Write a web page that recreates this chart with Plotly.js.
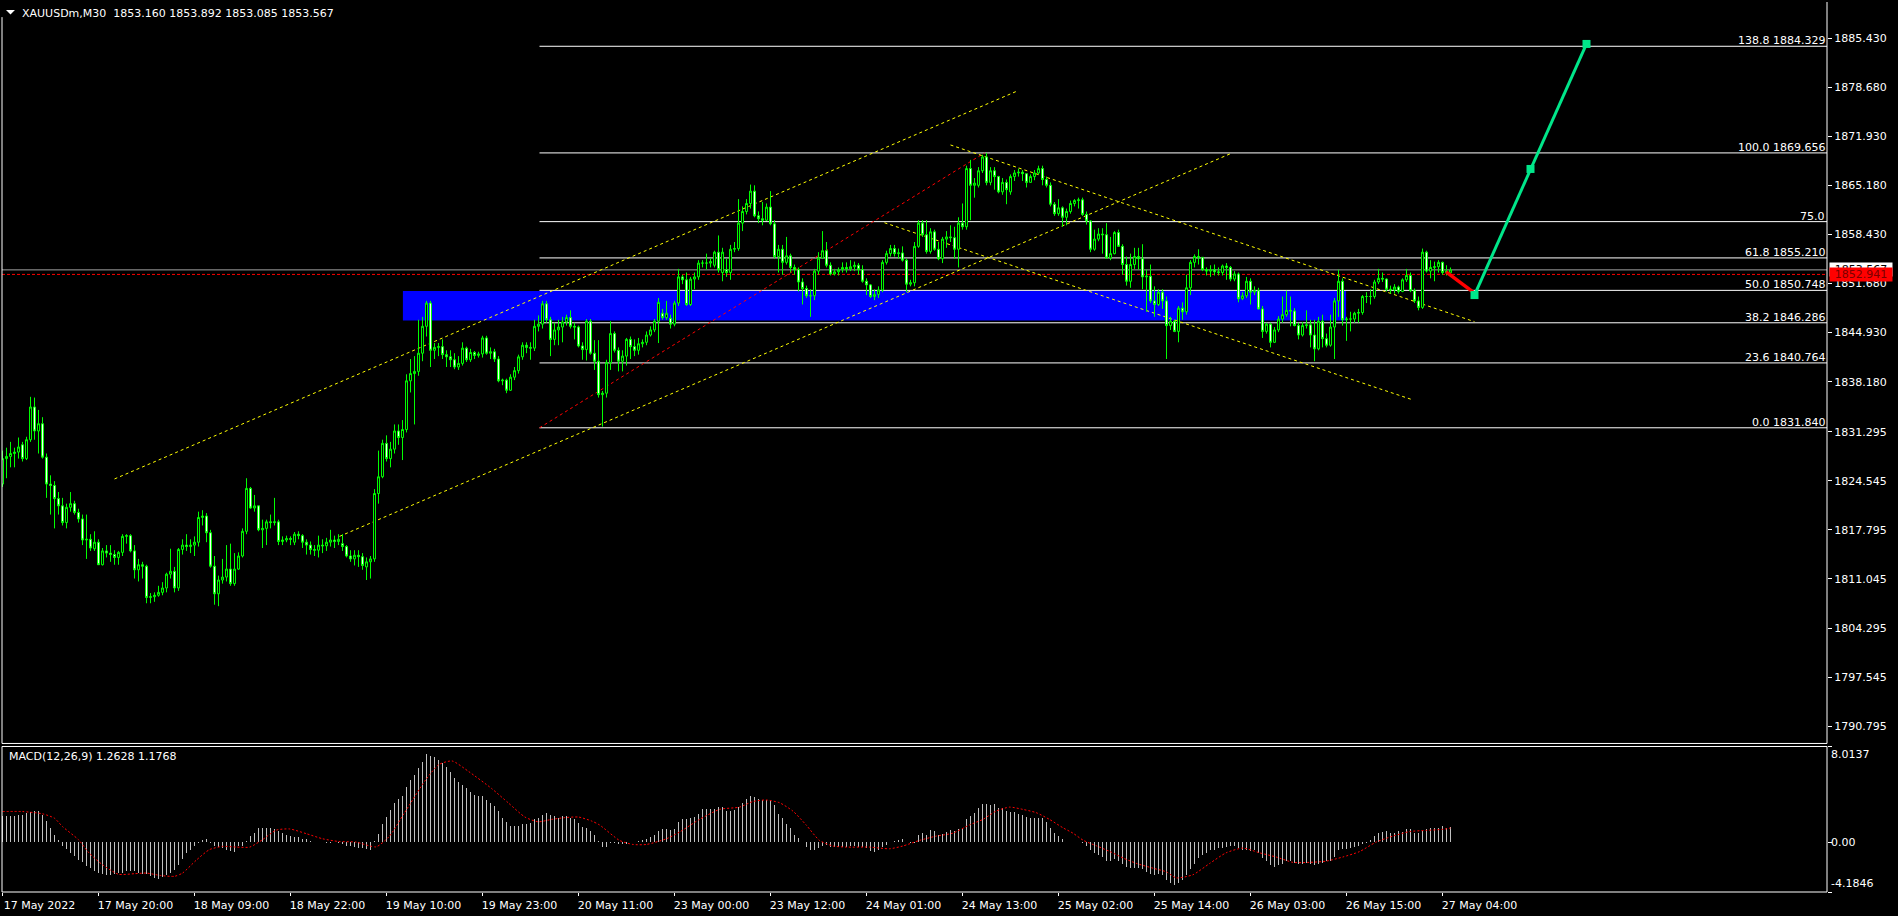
<!DOCTYPE html>
<html>
<head>
<meta charset="utf-8">
<script src="https://cdn.plot.ly/plotly-3.0.1.min.js"></script>
<style>
  html, body { margin: 0; padding: 0; background: #000; }
  #chart { width: 1898px; height: 916px; }
</style>
</head>
<body>
<div id="chart"></div>
<script>
// ---------------- DATA (XAUUSDm, M30) ----------------
const symbolTitle = "XAUUSDm,M30  1853.160 1853.892 1853.085 1853.567";
const macdTitle = "MACD(12,26,9) 1.2628 1.1768";

const open = [
1824.1,1827.6,1827.9,1828.3,1828.5,1829.5,1827.6,1830.2,1834.7,1831.4,
1832.4,1827.8,1824.1,1823.9,1822.1,1821.1,1818.8,1820.9,1821.4,1820.2,
1819.3,1816.4,1816.5,1815.2,1816.1,1813.0,1814.9,1814.6,1814.4,1814.0,
1814.7,1816.9,1817.0,1814.9,1812.3,1813.0,1812.8,1808.5,1808.6,1808.8,
1809.2,1809.8,1811.7,1812.1,1809.8,1815.1,1815.7,1815.5,1815.7,1816.1,
1819.5,1819.7,1817.4,1812.8,1809.0,1810.9,1811.3,1812.4,1810.4,1812.4,
1814.2,1817.6,1823.5,1820.8,1821.1,1817.8,1818.0,1818.9,1818.8,1818.9,
1816.2,1816.4,1816.6,1816.1,1817.2,1817.0,1816.1,1815.7,1815.1,1815.0,
1815.7,1815.6,1816.1,1816.4,1816.2,1815.9,1815.5,1814.2,1813.8,1814.3,
1814.1,1812.7,1813.4,1813.8,1822.8,1825.1,1829.7,1827.6,1828.9,1831.4,
1830.5,1831.6,1838.3,1839.3,1839.6,1842.1,1845.8,1849.0,1842.5,1842.9,
1843.0,1841.9,1841.6,1841.2,1840.2,1840.7,1842.8,1841.2,1842.2,1841.8,
1842.0,1844.2,1842.1,1842.3,1841.3,1838.3,1838.4,1837.0,1838.8,1839.7,
1841.6,1843.2,1842.9,1842.8,1845.8,1846.1,1848.9,1846.7,1844.0,1845.3,
1845.7,1846.4,1847.0,1845.8,1845.7,1843.1,1842.6,1846.5,1842.1,1841.0,
1836.4,1836.6,1840.8,1844.8,1842.5,1841.0,1841.7,1844.0,1843.0,1842.5,
1843.4,1843.6,1844.6,1845.3,1846.5,1847.6,1847.0,1846.9,1846.1,1849.0,
1852.6,1852.2,1848.8,1852.3,1852.6,1854.5,1854.5,1854.5,1854.2,1856.0,
1853.2,1853.6,1853.2,1856.4,1856.5,1860.0,1861.6,1862.7,1864.4,1861.0,
1860.6,1860.4,1862.2,1859.9,1855.4,1856.4,1854.6,1855.5,1853.9,1853.6,
1851.9,1851.0,1850.0,1850.0,1853.4,1855.2,1856.2,1854.2,1853.0,1853.3,
1853.6,1853.9,1853.7,1854.0,1854.2,1853.6,1852.0,1851.5,1849.9,1850.2,
1850.8,1854.6,1855.8,1856.5,1855.8,1855.9,1854.9,1851.6,1851.8,1856.8,
1860.0,1858.4,1856.1,1858.8,1856.4,1855.1,1857.8,1858.1,1858.0,1856.4,
1860.0,1859.5,1867.5,1865.2,1865.2,1867.2,1869.1,1865.6,1867.2,1866.4,
1864.3,1865.6,1864.3,1866.4,1866.9,1867.0,1866.8,1865.6,1866.4,1866.9,
1867.5,1866.0,1865.2,1862.6,1861.3,1862.1,1860.8,1861.6,1862.7,1863.1,
1863.2,1861.2,1860.3,1856.4,1857.8,1858.5,1858.4,1855.2,1855.8,1858.7,
1856.8,1854.3,1852.0,1854.3,1855.4,1855.1,1852.6,1852.7,1849.3,1848.8,
1850.5,1849.3,1845.9,1846.5,1845.1,1848.3,1847.8,1851.1,1854.6,1855.4,
1855.3,1853.6,1853.4,1853.6,1853.3,1853.2,1854.1,1853.9,1852.3,1853.0,
1849.6,1850.0,1852.0,1850.5,1850.7,1848.2,1845.1,1846.1,1843.6,1845.3,
1846.8,1847.4,1848.0,1847.9,1845.9,1844.6,1845.9,1846.0,1844.6,1842.7,
1846.5,1844.1,1843.2,1845.7,1849.3,1852.0,1846.7,1846.8,1846.8,1847.6,
1847.7,1849.9,1849.9,1849.9,1851.9,1852.4,1852.3,1850.9,1850.8,1851.2,
1850.6,1852.2,1852.8,1850.7,1849.3,1848.4,1856.0,1853.4,1853.9,1854.0,
1854.6,1853.2,1853.16];

const high = [
1828.7,1829.1,1829.9,1829.1,1830.5,1829.9,1830.6,1836.1,1836.0,1834.3,
1833.3,1828.3,1825.3,1824.5,1823.0,1822.2,1821.4,1823.0,1821.8,1820.7,
1819.9,1819.9,1817.2,1817.6,1816.5,1815.3,1815.7,1815.7,1815.0,1814.9,
1817.2,1817.2,1817.2,1815.7,1813.8,1813.4,1813.0,1809.1,1809.2,1810.1,
1810.6,1811.9,1815.2,1812.7,1815.3,1816.5,1817.2,1816.5,1816.9,1820.3,
1820.5,1820.1,1817.8,1814.2,1811.5,1813.8,1815.7,1815.9,1814.6,1814.7,
1818.0,1824.9,1823.7,1822.6,1821.1,1819.2,1819.2,1819.9,1822.2,1819.2,
1816.9,1817.0,1816.9,1817.5,1817.6,1817.2,1816.5,1816.2,1815.7,1817.0,
1816.5,1816.7,1817.8,1817.0,1817.2,1817.2,1815.7,1815.0,1815.0,1815.0,
1814.6,1814.0,1814.2,1823.4,1828.7,1830.2,1830.8,1829.9,1832.3,1832.3,
1832.9,1839.2,1841.3,1841.7,1846.7,1847.1,1849.3,1849.3,1843.5,1843.5,
1844.0,1842.5,1842.5,1842.1,1841.7,1843.6,1843.0,1842.7,1842.4,1842.3,
1844.5,1844.5,1842.9,1842.7,1841.7,1838.6,1838.6,1839.2,1840.2,1841.9,
1843.6,1843.6,1843.6,1846.7,1847.3,1849.3,1849.3,1847.1,1846.3,1846.7,
1847.1,1847.4,1848.0,1846.3,1845.9,1843.6,1846.8,1846.8,1843.9,1843.9,
1836.9,1841.2,1846.5,1845.1,1842.9,1842.5,1844.2,1844.4,1844.0,1844.2,
1844.0,1845.1,1845.8,1846.8,1849.7,1848.2,1849.3,1847.4,1849.3,1853.7,
1852.9,1853.2,1852.6,1853.2,1854.9,1854.9,1855.8,1855.2,1856.2,1858.3,
1856.6,1855.1,1857.0,1857.4,1863.3,1862.3,1863.3,1865.3,1865.2,1861.6,
1862.9,1862.7,1864.4,1860.4,1857.0,1857.0,1858.1,1855.8,1854.3,1853.9,
1852.4,1851.4,1850.9,1853.7,1856.0,1858.9,1857.4,1854.6,1853.7,1853.9,
1854.6,1854.6,1854.9,1854.7,1854.5,1854.2,1852.4,1851.6,1850.9,1851.3,
1854.9,1856.2,1857.0,1857.0,1856.5,1856.8,1855.1,1852.2,1857.4,1860.4,
1860.4,1860.4,1859.3,1859.1,1857.4,1858.1,1858.9,1859.7,1859.5,1860.8,
1862.7,1867.9,1868.7,1866.2,1867.7,1869.4,1869.66,1867.7,1867.7,1866.5,
1866.2,1866.0,1866.7,1867.3,1867.5,1867.3,1866.8,1866.7,1867.3,1867.9,
1867.9,1866.4,1865.6,1862.9,1863.3,1862.3,1862.0,1863.1,1863.3,1863.5,
1863.5,1861.6,1860.4,1859.1,1859.3,1859.3,1860.0,1858.1,1858.9,1859.1,
1857.1,1855.4,1855.8,1856.6,1856.6,1857.1,1853.6,1854.3,1851.3,1850.9,
1850.9,1849.9,1847.1,1846.7,1848.6,1849.1,1852.9,1854.9,1855.7,1856.4,
1855.3,1853.9,1854.2,1854.3,1853.9,1854.3,1854.5,1854.1,1853.4,1853.2,
1850.5,1852.6,1852.4,1851.3,1851.1,1848.6,1846.3,1846.3,1845.7,1847.2,
1849.9,1850.7,1849.9,1848.3,1846.3,1846.4,1848.0,1846.7,1846.7,1847.1,
1847.4,1844.8,1847.4,1849.7,1853.6,1852.4,1847.1,1847.8,1847.8,1848.2,
1850.1,1850.5,1850.9,1852.2,1853.7,1853.2,1852.4,1851.4,1851.6,1851.4,
1852.4,1853.7,1853.2,1851.0,1849.9,1856.5,1856.2,1854.9,1854.7,1854.9,
1854.7,1854.2,1853.892];

const low = [
1823.7,1824.9,1826.4,1826.4,1827.6,1827.2,1827.4,1829.9,1830.2,1828.3,
1827.6,1822.2,1819.9,1818.0,1819.9,1818.4,1818.0,1820.3,1819.9,1818.8,
1815.7,1813.8,1814.9,1814.9,1813.0,1812.9,1814.0,1813.4,1813.0,1813.0,
1814.2,1815.9,1814.7,1811.1,1810.7,1811.1,1807.7,1807.7,1807.9,1808.6,
1808.8,1809.2,1811.1,1809.2,1809.4,1814.4,1814.9,1814.6,1814.2,1815.5,
1818.4,1816.1,1812.6,1807.5,1807.3,1810.4,1810.7,1810.1,1810.1,1812.3,
1814.0,1817.2,1820.7,1820.3,1817.6,1815.3,1815.7,1818.0,1818.4,1815.7,
1815.7,1816.1,1815.7,1815.7,1816.5,1815.3,1814.4,1814.4,1814.2,1814.0,
1814.6,1814.9,1815.5,1815.3,1815.7,1814.9,1814.0,1813.4,1812.9,1812.7,
1812.3,1810.9,1811.1,1813.4,1821.4,1824.9,1827.2,1826.4,1828.3,1829.5,
1827.4,1831.2,1836.7,1832.3,1839.0,1841.0,1844.4,1840.2,1841.3,1841.7,
1841.3,1840.2,1840.2,1839.9,1839.8,1840.4,1840.9,1840.9,1841.3,1841.5,
1841.5,1841.9,1841.3,1840.9,1838.1,1837.7,1836.6,1836.9,1838.4,1839.3,
1841.2,1842.1,1841.2,1842.4,1845.1,1845.5,1846.3,1841.7,1843.2,1843.2,
1843.6,1845.9,1845.5,1844.0,1842.9,1841.2,1841.1,1841.9,1839.8,1836.0,
1832.0,1836.0,1839.8,1842.2,1839.6,1839.6,1840.4,1841.3,1841.7,1841.9,
1842.9,1843.2,1844.4,1845.0,1843.5,1846.7,1846.7,1845.5,1845.8,1848.6,
1851.6,1848.6,1848.6,1850.9,1852.2,1853.9,1853.6,1853.9,1853.9,1853.2,
1852.0,1852.6,1852.2,1856.0,1856.2,1858.9,1861.2,1862.0,1860.8,1860.0,
1859.7,1860.3,1859.7,1855.1,1853.2,1852.9,1854.3,1853.2,1852.9,1850.6,
1848.8,1849.7,1847.1,1849.4,1852.9,1855.1,1853.9,1852.8,1852.8,1852.8,
1853.2,1853.2,1853.4,1853.4,1852.9,1851.8,1850.1,1849.7,1849.4,1849.7,
1850.5,1854.3,1855.4,1855.4,1855.1,1854.7,1850.5,1851.3,1851.3,1856.6,
1858.1,1855.8,1855.8,1856.2,1854.9,1854.5,1856.6,1857.4,1855.1,1853.9,
1859.1,1859.1,1860.4,1863.5,1864.9,1866.9,1865.2,1865.2,1864.6,1864.1,
1863.9,1862.6,1863.9,1865.8,1866.4,1865.8,1864.9,1865.6,1865.9,1866.7,
1865.2,1864.9,1862.3,1861.0,1861.0,1859.5,1859.7,1861.3,1862.3,1862.0,
1861.0,1859.8,1856.0,1856.2,1857.5,1855.8,1855.1,1854.9,1855.7,1856.8,
1852.9,1851.4,1851.1,1853.7,1853.6,1850.9,1847.8,1849.0,1847.1,1848.6,
1848.2,1841.3,1845.3,1845.0,1843.6,1846.7,1847.4,1850.1,1853.9,1854.3,
1853.4,1852.8,1852.6,1852.8,1852.8,1852.8,1852.2,1852.0,1852.0,1849.1,
1849.4,1849.7,1848.8,1850.1,1848.1,1844.2,1844.8,1842.9,1843.5,1845.0,
1846.3,1847.1,1845.8,1845.8,1844.0,1844.4,1845.5,1842.9,1841.0,1842.5,
1842.9,1842.9,1843.0,1841.3,1847.1,1845.9,1843.8,1845.1,1846.3,1846.3,
1847.4,1849.0,1848.8,1849.6,1851.6,1851.9,1850.6,1850.3,1850.3,1850.3,
1850.5,1851.9,1850.5,1849.0,1848.0,1848.2,1853.2,1852.4,1852.0,1853.2,
1852.9,1852.8,1853.085];

const close = [
1827.6,1827.9,1828.3,1828.5,1829.2,1827.6,1830.2,1834.7,1831.4,1832.4,
1827.8,1824.1,1823.9,1822.1,1821.1,1818.8,1820.9,1821.4,1820.2,1819.3,
1816.4,1816.5,1815.3,1816.1,1813.0,1814.9,1814.6,1814.4,1814.0,1814.7,
1816.9,1817.0,1814.9,1812.3,1813.0,1812.8,1808.5,1808.6,1808.8,1809.2,
1809.8,1811.7,1812.1,1809.8,1815.1,1815.7,1815.5,1815.7,1816.1,1819.5,
1819.7,1817.4,1812.8,1809.0,1810.9,1811.3,1812.4,1810.4,1812.4,1814.2,
1817.6,1823.5,1820.8,1821.1,1817.8,1818.0,1818.9,1818.8,1818.9,1816.2,
1816.4,1816.6,1816.5,1817.2,1817.0,1816.1,1815.7,1815.1,1815.0,1815.7,
1815.6,1816.1,1816.4,1816.2,1816.5,1815.5,1814.2,1813.8,1814.3,1814.1,
1812.9,1813.4,1813.8,1822.8,1825.1,1829.7,1827.6,1828.9,1831.4,1830.5,
1831.6,1838.3,1839.3,1839.6,1842.1,1845.8,1849.0,1842.5,1842.9,1843.0,
1841.9,1841.6,1841.2,1840.2,1840.7,1842.8,1841.2,1842.2,1841.8,1842.0,
1844.2,1842.1,1842.3,1841.3,1838.3,1838.4,1837.0,1838.8,1839.7,1841.6,
1843.2,1842.9,1842.8,1845.8,1846.1,1848.9,1846.7,1844.0,1845.3,1845.7,
1846.4,1847.0,1845.8,1845.7,1843.1,1842.6,1846.5,1842.1,1841.0,1836.4,
1836.6,1840.8,1844.8,1842.5,1841.0,1841.7,1844.0,1843.0,1842.5,1843.4,
1843.6,1844.6,1845.3,1846.5,1849.1,1847.0,1847.6,1846.1,1849.0,1852.6,
1852.2,1848.8,1852.3,1852.6,1854.5,1854.5,1854.5,1854.7,1856.0,1853.6,
1856.0,1853.2,1856.4,1856.5,1860.0,1861.6,1862.7,1864.4,1861.0,1860.6,
1860.4,1862.2,1859.9,1855.4,1856.4,1854.6,1855.5,1853.9,1853.6,1851.9,
1851.0,1850.0,1850.0,1853.4,1855.2,1856.2,1854.2,1853.0,1853.3,1853.6,
1853.9,1853.7,1854.0,1854.2,1853.6,1852.0,1851.5,1849.9,1850.2,1850.8,
1854.6,1855.8,1856.5,1855.8,1855.9,1854.9,1851.6,1851.8,1856.8,1860.0,
1858.4,1856.1,1858.8,1856.4,1855.1,1857.8,1858.1,1858.0,1856.4,1860.0,
1859.5,1867.5,1865.2,1865.5,1867.2,1869.1,1865.6,1867.2,1866.4,1864.3,
1865.6,1864.6,1866.4,1866.9,1867.0,1866.8,1865.6,1866.4,1866.9,1867.5,
1866.0,1865.2,1862.6,1861.3,1862.1,1860.8,1861.6,1862.7,1863.1,1863.2,
1861.2,1860.3,1856.4,1857.8,1858.5,1858.4,1855.2,1855.8,1858.7,1856.8,
1854.3,1852.0,1854.3,1855.4,1855.1,1852.6,1852.7,1849.3,1848.8,1850.5,
1849.3,1845.9,1846.5,1845.1,1848.3,1847.8,1851.1,1854.6,1855.4,1855.3,
1853.6,1853.4,1853.6,1853.3,1853.2,1854.1,1853.9,1852.3,1853.0,1849.6,
1850.0,1852.0,1850.5,1850.7,1848.2,1845.1,1846.1,1843.6,1845.3,1846.8,
1847.4,1848.0,1847.9,1845.9,1844.6,1845.9,1846.0,1844.6,1842.7,1846.5,
1844.1,1843.2,1845.7,1849.3,1852.0,1846.7,1846.8,1846.8,1847.6,1847.7,
1849.9,1849.9,1849.9,1851.9,1852.4,1852.3,1850.9,1850.8,1851.2,1850.6,
1852.2,1852.8,1850.7,1849.3,1848.4,1856.0,1853.4,1853.9,1854.0,1854.6,
1853.2,1853.4,1853.567];

// MACD main line (histogram), one value per bar
const macd = [
2.2,2.2,2.2,2.2,2.25,2.3,2.4,2.55,2.6,2.6,
2.3,1.8,1.2,0.6,0.15,-0.3,-0.6,-0.9,-1.2,-1.5,
-1.7,-2.0,-2.2,-2.4,-2.55,-2.7,-2.8,-2.8,-2.7,-2.6,
-2.55,-2.45,-2.4,-2.45,-2.55,-2.65,-2.7,-2.85,-3.0,-3.1,
-2.95,-2.75,-2.6,-2.3,-1.9,-1.4,-0.9,-0.65,-0.36,-0.1,
0.14,0.25,-0.1,-0.36,-0.42,-0.5,-0.64,-0.78,-0.86,-0.36,
-0.36,0.05,0.47,0.8,1.17,1.17,1.17,1.17,1.1,0.9,
0.75,0.6,0.55,0.45,0.4,0.3,0.25,0.05,0,0,
0,-0.1,-0.05,0,-0.05,-0.15,-0.3,-0.33,-0.42,-0.5,
-0.5,-0.6,-0.65,0.05,0.65,1.5,2.1,2.7,3.25,3.6,
3.9,4.65,5.2,5.6,6.2,6.7,7.35,7.25,7.1,6.9,
6.65,6.3,5.9,5.4,5.0,4.8,4.55,4.2,3.95,3.9,
3.9,3.55,3.3,3.05,2.6,2.05,1.7,1.35,1.35,1.35,
1.55,1.55,1.6,1.9,2.0,2.3,2.4,2.3,2.15,2.05,
2.15,2.15,2.05,1.9,1.6,1.3,1.2,0.9,0.6,0.05,
-0.4,-0.4,-0.05,-0.05,-0.2,-0.2,-0.15,0,0,0.05,
0.15,0.28,0.4,0.6,0.9,1.07,1.07,1.0,1.07,1.67,
1.9,1.9,2.0,2.14,2.37,2.74,2.8,2.8,2.8,2.9,
2.9,2.6,2.6,2.7,2.93,3.3,3.6,3.9,3.77,3.6,
3.53,3.53,3.5,3.07,2.37,2.0,1.53,1.2,0.6,0.33,
0,-0.42,-0.65,-0.65,-0.5,-0.33,-0.28,-0.42,-0.42,-0.42,
-0.42,-0.42,-0.33,-0.33,-0.42,-0.42,-0.5,-0.75,-0.85,-0.65,
-0.42,-0.23,0,0.05,0.14,0.28,0,-0.1,-0.05,0.6,
0.75,0.6,1.0,0.9,0.6,0.7,0.84,1.0,0.9,1.07,
1.2,1.9,2.2,2.47,2.84,3.16,3.16,3.07,3.16,2.84,
2.84,2.6,2.5,2.5,2.37,2.28,2.14,2.05,2.05,2.05,
2.0,1.67,1.2,0.75,0.5,0.23,0,0,0,0,
-0.1,-0.33,-0.65,-0.9,-1.1,-1.25,-1.6,-1.6,-1.45,-1.6,
-1.8,-2.05,-2.14,-2.14,-2.14,-2.28,-2.5,-2.65,-2.74,-2.65,
-2.74,-3.2,-3.45,-3.6,-3.45,-3.2,-2.74,-2.28,-1.8,-1.35,
-1.12,-0.9,-0.65,-0.65,-0.5,-0.5,-0.42,-0.33,-0.33,-0.5,
-0.65,-0.65,-0.75,-0.65,-0.9,-1.35,-1.6,-1.9,-2.05,-1.9,
-1.8,-1.6,-1.6,-1.72,-1.8,-1.8,-1.72,-1.8,-1.9,-1.8,
-1.72,-1.6,-1.6,-1.25,-0.65,-0.56,-0.56,-0.5,-0.42,-0.33,
-0.2,-0.1,0.14,0.5,0.75,0.84,0.9,0.75,0.75,0.9,
0.84,1.07,1.07,0.75,0.75,0.9,1.07,1.2,1.2,1.2,
1.35,1.2,1.2628];

// MACD signal line, read at these bar positions
const sigX = [0,5,10,13,15,19,21.6,25,29,33,36,39.5,43,45,48.5,51.7,55,58.5,61.8,65,68.4,71.8,76,80,84,88.4,93.4,96.75,100.4,105.75,109.1,112.4,116.6,122.25,126.4,130.6,133.9,137.25,140.6,144,147.25,149.25,154.25,157.6,161,166,169.25,174.25,179.25,184.25,187.6,190.9,194.25,197.6,200.9,204.25,207.6,210.9,216.75,221.75,225.1,229.25,233.4,237.6,241.75,245.1,248.4,251.75,255.1,258.4,261.75,265.1,267.6,270.25,273.6,276.9,280.25,283.6,287.75,291,293.4,297.6,301.75,305.9,310.1,314.25,318.4,322.6,326.75,330.9,335.1,339.25,343.4,347.6,351.75,356,360.1,362];
const sigY = [2.56,2.56,2.37,2.0,1.3,0.2,-0.9,-1.9,-2.7,-2.65,-2.6,-2.8,-2.87,-2.6,-1.5,-0.64,-0.36,-0.42,-0.42,0.2,1.0,1.1,0.7,0.28,0.05,0,-0.4,0.5,2.4,5.2,6.5,6.8,5.9,4.5,3.3,2.1,1.7,1.9,2.05,2.1,1.77,1.44,0.14,-0.2,-0.2,0.28,0.84,1.9,2.74,2.93,3.4,3.53,3.3,2.6,1.44,0.14,-0.33,-0.42,-0.42,-0.56,-0.33,0.14,0.5,0.75,1.44,1.9,2.6,2.93,2.74,2.47,1.9,1.2,0.75,0.14,-0.33,-0.8,-1.35,-1.8,-2.2,-2.5,-3.0,-2.74,-1.8,-0.9,-0.5,-0.9,-1.25,-1.7,-1.7,-1.6,-1.25,-0.8,0,0.5,0.88,0.98,1.07,1.1768];

// Axis labels
const timeTickIdx = [0,24,48,72,96,120,144,168,192,216,240,264,288,312,336,360];
const timeTickText = ["17 May 2022","17 May 20:00","18 May 09:00","18 May 22:00","19 May 10:00","19 May 23:00","20 May 11:00","23 May 00:00","23 May 12:00","24 May 01:00","24 May 13:00","25 May 02:00","25 May 14:00","26 May 03:00","26 May 15:00","27 May 04:00"];
const priceTicks = [1790.795,1797.545,1804.295,1811.045,1817.795,1824.545,1831.295,1838.180,1844.930,1851.680,1858.430,1865.180,1871.930,1878.680,1885.430];
const macdMax = 8.0137, macdMin = -4.1846;

// Fibonacci retracement (anchors: bar index / price)
const fibLevels = ["0.0","23.6","38.2","50.0","61.8","75.0","100.0","138.8"];
const fibPrices = [1831.840,1840.764,1846.286,1850.748,1855.210,1860.202,1869.656,1884.329];
const fibShowPrice = [true,true,true,true,true,false,true,true];
const fibAnchorX = [134.25, 245.5];
const fibAnchorY = [1831.840, 1869.656];

// Support zone rectangle
const zoneX = [100.1, 335.9];
const zoneY = [1846.6, 1850.65];

// Yellow channel lines [x0, y0, x1, y1]
const channelLines = [
  [28, 1824.8, 253.8, 1878.2],
  [84.25, 1816.9, 307.2, 1869.6],
  [237, 1870.75, 368, 1846.44],
  [220.5, 1860.05, 352.2, 1835.75]
];

// Projected path
const pullbackX = [360.9, 367.6];
const pullbackY = [1853.3, 1850.55];
const projX = [368, 382, 396];
const projY = [1850.1, 1867.45, 1884.65];

const bidPrice = 1853.567;
const askPrice = 1852.941;

// ---------------- CHART ----------------
const idx = close.map((_, i) => i);
const FONT = "DejaVu Sans, Verdana, sans-serif";
const X_RANGE = [-0.125, 456.125];

const traces = [
  {
    type: "candlestick", x: idx, open: open, high: high, low: low, close: close,
    xaxis: "x", yaxis: "y",
    increasing: { line: { color: "#00ff00", width: 1 }, fillcolor: "#000000" },
    decreasing: { line: { color: "#00ff00", width: 1 }, fillcolor: "#ffffff" },
    whiskerwidth: 0, hoverinfo: "skip", showlegend: false
  },
  {
    type: "bar", x: idx, y: macd, xaxis: "x", yaxis: "y2", width: 0.25,
    marker: { color: "#c0c0c0", line: { width: 0 } }, hoverinfo: "skip", showlegend: false
  },
  {
    type: "scatter", mode: "lines", x: sigX, y: sigY, xaxis: "x", yaxis: "y2",
    line: { color: "#ff0000", width: 1, dash: "2px,2px", shape: "spline", smoothing: 0.6 },
    hoverinfo: "skip", showlegend: false
  },
  {
    type: "scatter", mode: "lines", x: pullbackX, y: pullbackY, xaxis: "x", yaxis: "y",
    line: { color: "#ff0000", width: 3.5 }, hoverinfo: "skip", showlegend: false, cliponaxis: false
  },
  {
    type: "scatter", mode: "lines+markers", x: projX, y: projY, xaxis: "x", yaxis: "y",
    line: { color: "#00e68a", width: 3 },
    marker: { symbol: "square", size: 8, color: "#00e68a", line: { width: 0 } },
    hoverinfo: "skip", showlegend: false, cliponaxis: false
  }
];

const shapes = [];
// support zone
shapes.push({ type: "rect", xref: "x", yref: "y", x0: zoneX[0], x1: zoneX[1], y0: zoneY[0], y1: zoneY[1],
  fillcolor: "#0000ff", line: { width: 0 }, layer: "below" });
// fib levels
fibPrices.forEach(p => shapes.push({ type: "line", xref: "x", yref: "y", x0: fibAnchorX[0], x1: X_RANGE[1], y0: p, y1: p,
  line: { color: "#ffffff", width: 1 }, layer: "below" }));
// fib trend line
shapes.push({ type: "line", xref: "x", yref: "y", x0: fibAnchorX[0], y0: fibAnchorY[0], x1: fibAnchorX[1], y1: fibAnchorY[1],
  line: { color: "#ff0000", width: 1, dash: "3px,3px" }, layer: "below" });
// channels
channelLines.forEach(c => shapes.push({ type: "line", xref: "x", yref: "y", x0: c[0], y0: c[1], x1: c[2], y1: c[3],
  line: { color: "#ffff00", width: 1, dash: "3px,3px" }, layer: "below" }));
// bid / ask lines
shapes.push({ type: "line", xref: "paper", yref: "y", x0: 0, x1: 1, y0: bidPrice, y1: bidPrice,
  line: { color: "#a0a0a0", width: 1 }, layer: "below" });
shapes.push({ type: "line", xref: "paper", yref: "y", x0: 0, x1: 1, y0: askPrice, y1: askPrice,
  line: { color: "#ff0000", width: 1, dash: "3px,2px" }, layer: "below" });

// panel frames
const MAIN_DOM = [0.1669, 1];
const MACD_DOM = [0, 0.1635];
const frame = (x0, y0, x1, y1) => shapes.push({ type: "line", xref: "paper", yref: "paper", x0, y0, x1, y1,
  line: { color: "#ffffff", width: 1 }, layer: "above" });
frame(0, MAIN_DOM[0], 0, 0.983);
frame(1, MAIN_DOM[0], 1, 1);
frame(0, MAIN_DOM[0], 1, MAIN_DOM[0]);
frame(0, MACD_DOM[0], 0, MACD_DOM[1]);
frame(1, MACD_DOM[0], 1, MACD_DOM[1]);
frame(0, MACD_DOM[1], 1, MACD_DOM[1]);
frame(0, MACD_DOM[0], 1, MACD_DOM[0]);
// title triangle
shapes.push({ type: "path", xref: "paper", yref: "paper",
  path: "M 0.0022,0.9910 L 0.0071,0.9910 L 0.00465,0.9860 Z",
  fillcolor: "#ffffff", line: { width: 0 }, layer: "above" });

const annotations = [];
annotations.push({ xref: "paper", yref: "paper", x: 0, y: 1, xanchor: "left", yanchor: "middle",
  xshift: 18.5, yshift: -11, text: symbolTitle.replace(/  /g, "\u00a0\u00a0"), showarrow: false,
  font: { family: FONT, size: 11, color: "#ffffff" }, borderpad: 0 });
annotations.push({ xref: "paper", yref: "paper", x: 0, y: 0.152, xanchor: "left", yanchor: "middle",
  xshift: 5.5, text: macdTitle, showarrow: false,
  font: { family: FONT, size: 11, color: "#ffffff" }, borderpad: 0 });
fibPrices.forEach((p, k) => annotations.push({ xref: "paper", yref: "y", x: 1, y: p, xanchor: "right", yanchor: "bottom",
  xshift: -1, yshift: -2, text: fibShowPrice[k] ? fibLevels[k] + " " + p.toFixed(3) : fibLevels[k],
  showarrow: false, font: { family: FONT, size: 11, color: "#ffffff" }, borderpad: 0 }));
// MACD scale labels
annotations.push({ xref: "paper", yref: "y2", x: 1, y: macdMax, xanchor: "left", yanchor: "top", xshift: 3, yshift: -1,
  text: macdMax.toFixed(4), showarrow: false, font: { family: FONT, size: 11, color: "#ffffff" }, borderpad: 0 });
annotations.push({ xref: "paper", yref: "y2", x: 1, y: 0, xanchor: "left", yanchor: "middle", xshift: 3,
  text: "0.00", showarrow: false, font: { family: FONT, size: 11, color: "#ffffff" }, borderpad: 0 });
annotations.push({ xref: "paper", yref: "y2", x: 1, y: macdMin, xanchor: "left", yanchor: "bottom", xshift: 3, yshift: 1,
  text: macdMin.toFixed(4), showarrow: false, font: { family: FONT, size: 11, color: "#ffffff" }, borderpad: 0 });
// price tags
annotations.push({ xref: "paper", yref: "y", x: 1, y: bidPrice, xanchor: "left", yanchor: "middle", xshift: 2,
  text: bidPrice.toFixed(3), showarrow: false, bgcolor: "#ffffff", width: 62, height: 13, align: "center",
  font: { family: FONT, size: 11, color: "#000000" }, borderpad: 0 });
annotations.push({ xref: "paper", yref: "y", x: 1, y: askPrice, xanchor: "left", yanchor: "middle", xshift: 2,
  text: askPrice.toFixed(3), showarrow: false, bgcolor: "#ff0000", width: 62, height: 13, align: "center",
  font: { family: FONT, size: 11, color: "#7a0000" }, borderpad: 0 });

const layout = {
  width: 1898, height: 916,
  paper_bgcolor: "#000000", plot_bgcolor: "#000000",
  margin: { l: 2, r: 71, t: 2, b: 24, pad: 0 },
  showlegend: false, hovermode: false, dragmode: false,
  bargap: 0,
  font: { family: FONT, size: 11, color: "#ffffff" },
  xaxis: {
    anchor: "y2", domain: [0, 1], range: X_RANGE, type: "linear",
    showgrid: false, zeroline: false, showline: false,
    rangeslider: { visible: false },
    tickmode: "array", tickvals: timeTickIdx, ticktext: timeTickText,
    ticks: "outside", ticklen: 3, tickcolor: "#ffffff", tickwidth: 1,
    ticklabelshift: 37, tickfont: { family: FONT, size: 11, color: "#ffffff" }
  },
  yaxis: {
    domain: MAIN_DOM, anchor: "x", side: "right", range: [1788.41, 1890.42],
    showgrid: false, zeroline: false, showline: false,
    tickmode: "array", tickvals: priceTicks, ticktext: priceTicks.map(v => v.toFixed(3)),
    ticks: "outside", ticklen: 4, tickcolor: "#ffffff", tickwidth: 1,
    tickfont: { family: FONT, size: 11, color: "#ffffff" }
  },
  yaxis2: {
    domain: MACD_DOM, anchor: "x", side: "right", range: [macdMin, macdMax],
    showgrid: false, zeroline: false, showline: false,
    tickmode: "array", tickvals: [macdMax, 0, macdMin], showticklabels: false,
    ticks: "outside", ticklen: 4, tickcolor: "#ffffff", tickwidth: 1
  },
  shapes: shapes,
  annotations: annotations
};

Plotly.newPlot("chart", traces, layout, { staticPlot: true, displayModeBar: false });
</script>
</body>
</html>
